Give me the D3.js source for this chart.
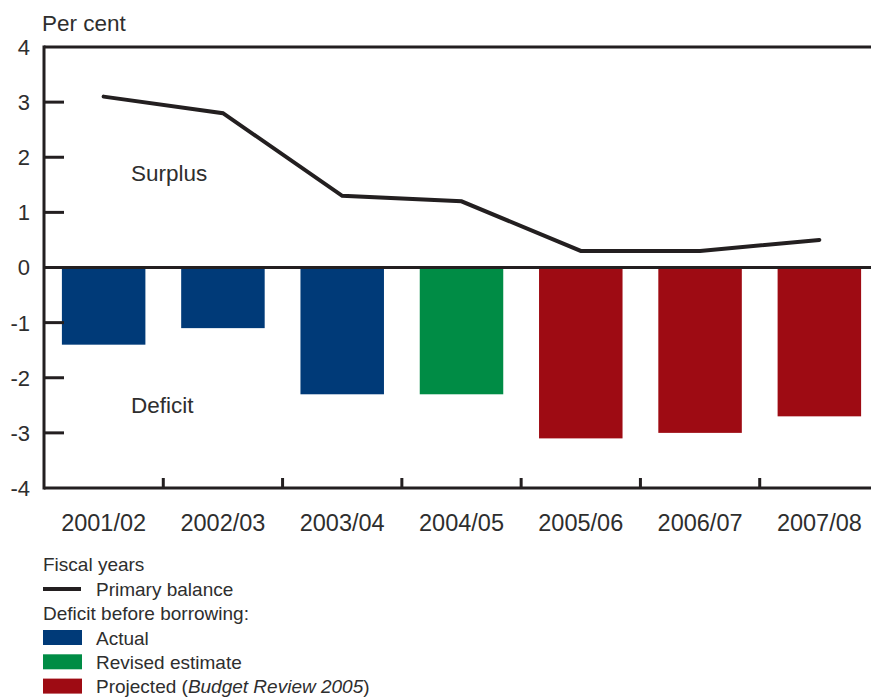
<!DOCTYPE html>
<meta charset="utf-8">
<script src="https://d3js.org/d3.v7.min.js"></script>
<style>
  body { margin: 0; background: #fff; }
  text { font-family: "Liberation Sans", Arial, sans-serif; fill: #2e2e2e; }
</style>
<body>
<div id="chart"></div>
<script>
  // data
  var years = ["2001/02", "2002/03", "2003/04", "2004/05", "2005/06", "2006/07", "2007/08"];
  var deficit = [-1.4, -1.1, -2.3, -2.3, -3.1, -3.0, -2.7];
  var barType = ["Actual", "Actual", "Actual", "Revised", "Projected", "Projected", "Projected"];
  var primaryBalance = [3.1, 2.8, 1.3, 1.2, 0.3, 0.3, 0.5];
  var yTicks = [-4, -3, -2, -1, 0, 1, 2, 3, 4];

  var colors = { Actual: "#003a78", Revised: "#008c45", Projected: "#9e0b13" };

  var W = 871, H = 697;
  var margin = { top: 47, left: 44 },
    width = 835, height = 441;

  var svg = d3.select("#chart").append("svg")
    .attr("width", W).attr("height", H);

  var g = svg.append("g")
    .attr("transform", "translate(" + margin.left + "," + margin.top + ")");

  var x = d3.scaleBand().domain(years).range([0, width]).paddingInner(0.3).paddingOuter(0.15);
  var xb = d3.scaleBand().domain(years).range([0, width]);
  var y = d3.scaleLinear().domain([-4, 4]).range([height, 0]);

  // bars
  g.selectAll(".bar")
    .data(years)
    .enter().append("rect")
    .attr("x", function (d) { return x(d); })
    .attr("width", x.bandwidth())
    .attr("y", y(0))
    .attr("height", function (d, i) { return y(deficit[i]) - y(0); })
    .attr("fill", function (d, i) { return colors[barType[i]]; });

  // frame: top, left, bottom, zero line
  var ink = "#231f20";
  g.append("line").attr("x1", 0).attr("x2", width).attr("y1", 0).attr("y2", 0)
    .attr("stroke", ink).attr("stroke-width", 3);
  g.append("line").attr("x1", 0).attr("x2", width).attr("y1", height).attr("y2", height)
    .attr("stroke", ink).attr("stroke-width", 3);
  g.append("line").attr("x1", 0).attr("x2", 0).attr("y1", -1.5).attr("y2", height + 1.5)
    .attr("stroke", ink).attr("stroke-width", 3);
  g.append("line").attr("x1", 0).attr("x2", width).attr("y1", y(0)).attr("y2", y(0))
    .attr("stroke", ink).attr("stroke-width", 3);

  // y ticks (inward) and labels
  g.selectAll(".ytick")
    .data(yTicks.filter(function (d) { return d > -4 && d < 4 && d !== 0; }))
    .enter().append("line")
    .attr("x1", 0).attr("x2", 20)
    .attr("y1", function (d) { return y(d); }).attr("y2", function (d) { return y(d); })
    .attr("stroke", ink).attr("stroke-width", 3);

  g.selectAll(".ylab")
    .data(yTicks)
    .enter().append("text")
    .attr("x", -14)
    .attr("y", function (d) { return y(d); })
    .attr("dy", "0.36em")
    .attr("text-anchor", "end")
    .style("font-size", "22px")
    .text(function (d) { return d; });

  // x ticks at band boundaries
  g.selectAll(".xtick")
    .data(years.slice(1))
    .enter().append("line")
    .attr("x1", function (d) { return xb(d); }).attr("x2", function (d) { return xb(d); })
    .attr("y1", height).attr("y2", height - 10)
    .attr("stroke", ink).attr("stroke-width", 3);

  g.selectAll(".xlab")
    .data(years)
    .enter().append("text")
    .attr("x", function (d) { return xb(d) + xb.bandwidth() / 2; })
    .attr("y", height + 43)
    .attr("text-anchor", "middle")
    .style("font-size", "23.5px")
    .text(function (d) { return d; });

  // primary balance line
  g.append("path")
    .datum(primaryBalance)
    .attr("d", d3.line()
      .x(function (d, i) { return xb(years[i]) + xb.bandwidth() / 2; })
      .y(function (d) { return y(d); }))
    .attr("fill", "none")
    .attr("stroke", ink)
    .attr("stroke-width", 4)
    .attr("stroke-linecap", "round");

  // annotations
  svg.append("text").attr("x", 42).attr("y", 31).style("font-size", "22.5px").text("Per cent");
  g.append("text").attr("x", 87).attr("y", y(1.72)).attr("dy", "0.36em")
    .style("font-size", "22.5px").text("Surplus");
  g.append("text").attr("x", 87).attr("y", y(-2.49)).attr("dy", "0.36em")
    .style("font-size", "22.5px").text("Deficit");

  // legend
  var lg = svg.append("g").attr("transform", "translate(43,0)");
  lg.append("text").attr("x", 0).attr("y", 571).style("font-size", "19px").text("Fiscal years");
  lg.append("line").attr("x1", 0).attr("x2", 38).attr("y1", 589).attr("y2", 589)
    .attr("stroke", ink).attr("stroke-width", 4);
  lg.append("text").attr("x", 53).attr("y", 596).style("font-size", "19px").text("Primary balance");
  lg.append("text").attr("x", 0).attr("y", 620).style("font-size", "19px").text("Deficit before borrowing:");

  var legendItems = [
    { key: "Actual", label: "Actual" },
    { key: "Revised", label: "Revised estimate" },
    { key: "Projected", label: "Projected" }
  ];
  legendItems.forEach(function (d, i) {
    var yy = 630 + i * 24.3;
    lg.append("rect").attr("x", 0).attr("y", yy).attr("width", 39).attr("height", 15)
      .attr("fill", colors[d.key]);
    var t = lg.append("text").attr("x", 53).attr("y", yy + 14.5).style("font-size", "19px");
    if (d.key === "Projected") {
      t.append("tspan").text("Projected (");
      t.append("tspan").style("font-style", "italic").text("Budget Review 2005");
      t.append("tspan").text(")");
    } else {
      t.text(d.label);
    }
  });
</script>
</body>
